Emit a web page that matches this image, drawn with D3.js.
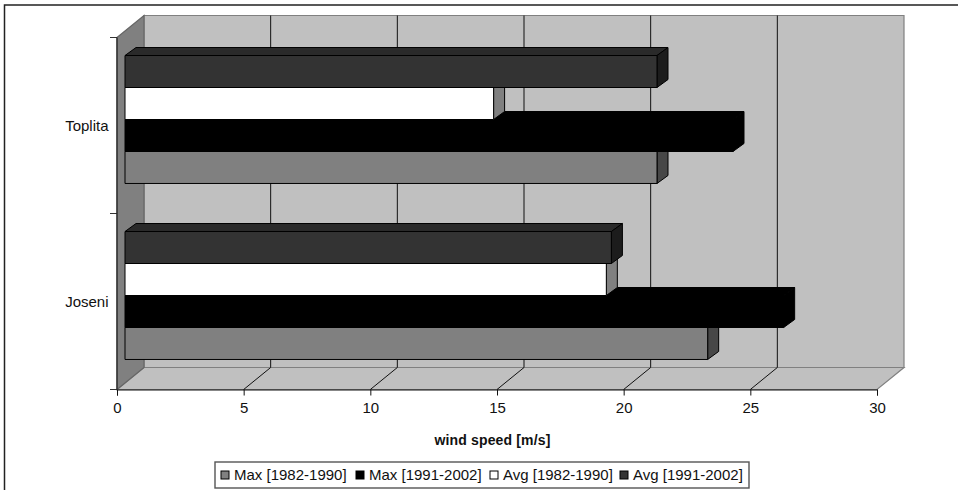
<!DOCTYPE html>
<html><head><meta charset="utf-8">
<script src="https://cdn.jsdelivr.net/npm/d3@7"></script>
<style>
html,body{margin:0;padding:0;background:#fff}
svg{display:block}
text{font-family:"Liberation Sans",Arial,sans-serif;fill:#111}
</style></head><body><svg id="c" width="958" height="490"></svg>
<script>
const categories = ["Joseni","Toplita"];
const seriesNames = ["Max [1982-1990]","Max [1991-2002]","Avg [1982-1990]","Avg [1991-2002]"];
const maxEarly = [23.0,21.0];
const maxLate  = [26.0,24.0];
const avgEarly = [19.0,14.55];
const avgLate  = [19.2,21.0];
const seriesValues = [maxEarly,maxLate,avgEarly,avgLate];
const xTicks = [0,5,10,15,20,25,30];
const axisTitle = "wind speed [m/s]";
const faces = [
  {front:"#808080",top:"#6a6a6a",side:"#474747"},
  {front:"#000000",top:"#000000",side:"#000000"},
  {front:"#ffffff",top:"#c8c8c8",side:"#808080"},
  {front:"#333333",top:"#2a2a2a",side:"#1c1c1c"}
];

const svg = d3.select("#c");
// frame of the picture (left and top only are visible)
svg.append("path").attr("d","M4.5,490V5H958").attr("fill","none").attr("stroke","#222").attr("stroke-width",1.5);

const x = d3.scaleLinear().domain([0,30]).range([117,877]);
const y = d3.scaleBand().domain(categories).range([389.5,37.5]).paddingInner(0.273).paddingOuter(0.1365);
const s = d3.scaleBand().domain(d3.range(seriesNames.length).reverse()).range([0,y.bandwidth()]);
const wall = {dx:27,dy:-22}, barInset = {dx:8,dy:-6}, barDepth = {dx:11,dy:-8};
const plotTop = y.range()[1], plotBot = y.range()[0], L = x(0), R = x(30);
const poly = p=>p.map(q=>q.join(",")).join(" ");

// walls and floor
svg.append("polygon").attr("points",poly([[L+wall.dx,plotTop+wall.dy],[R+wall.dx,plotTop+wall.dy],[R+wall.dx,plotBot+wall.dy],[L+wall.dx,plotBot+wall.dy]]))
  .attr("fill","#c0c0c0").attr("stroke","#808080").attr("stroke-width",1.2);
svg.append("polygon").attr("points",poly([[L,plotBot],[R,plotBot],[R+wall.dx,plotBot+wall.dy],[L+wall.dx,plotBot+wall.dy]]))
  .attr("fill","#c0c0c0").attr("stroke","#808080").attr("stroke-width",1.2);
svg.append("polygon").attr("points",poly([[L,plotTop],[L+wall.dx,plotTop+wall.dy],[L+wall.dx,plotBot+wall.dy],[L,plotBot]]))
  .attr("fill","#808080").attr("stroke","#666").attr("stroke-width",1.2);

// gridlines
svg.append("g").selectAll("path").data(xTicks.slice(1,-1)).join("path")
  .attr("d",v=>`M${x(v)},${plotBot}L${x(v)+wall.dx},${plotBot+wall.dy}V${plotTop+wall.dy}`)
  .attr("fill","none").attr("stroke","#111").attr("stroke-width",1);

// bars
categories.forEach((cat,ci)=>{
  seriesValues.forEach((vals,si)=>{
    const f = faces[si];
    const x0 = x(0)+barInset.dx, x1 = x(vals[ci])+barInset.dx;
    const y0 = y(cat)+s(si)+barInset.dy, y1 = y0+s.bandwidth();
    const g = svg.append("g").attr("stroke","#000").attr("stroke-width",1).attr("stroke-linejoin","round");
    g.append("polygon").attr("points",poly([[x0,y0],[x0+barDepth.dx,y0+barDepth.dy],[x1+barDepth.dx,y0+barDepth.dy],[x1,y0]])).attr("fill",f.top);
    g.append("polygon").attr("points",poly([[x1,y0],[x1+barDepth.dx,y0+barDepth.dy],[x1+barDepth.dx,y1+barDepth.dy],[x1,y1]])).attr("fill",f.side);
    g.append("rect").attr("x",x0).attr("y",y0).attr("width",x1-x0).attr("height",y1-y0).attr("fill",f.front);
  });
});

// axes
const xAxis = d3.axisBottom(x).tickValues(xTicks).tickSize(6).tickPadding(7);
const gx = svg.append("g").attr("transform",`translate(0,${plotBot})`).call(xAxis);
gx.selectAll("text").attr("font-size",15).style("font-family",'"Liberation Sans"').attr("fill","#111");
gx.selectAll("line,path").attr("stroke","#111");

const yTicks = [plotBot,(plotBot+plotTop)/2,plotTop];
svg.append("g").selectAll("line").data(yTicks).join("line")
  .attr("x1",L-7).attr("x2",L).attr("y1",d=>d).attr("y2",d=>d).attr("stroke","#333");
svg.append("line").attr("x1",L).attr("x2",L).attr("y1",plotTop).attr("y2",plotBot).attr("stroke","#222").attr("stroke-width",1.2);

svg.append("g").selectAll("text").data(categories).join("text")
  .attr("x",108.5).attr("y",c=>y(c)+y.bandwidth()/2).attr("dy","0.35em")
  .attr("text-anchor","end").attr("font-size",15).text(c=>c);

svg.append("text").attr("x",492.5).attr("y",445).attr("text-anchor","middle")
  .attr("font-size",14).attr("font-weight","bold").attr("letter-spacing",0.15).text(axisTitle);

// legend
svg.append("rect").attr("x",215).attr("y",462).attr("width",534).attr("height",26)
  .attr("fill","#fff").attr("stroke","#555").attr("stroke-width",1.4);
const legendX = [221,356,490,620];
const lg = svg.append("g").selectAll("g").data(seriesNames).join("g")
  .attr("transform",(d,i)=>`translate(${legendX[i]},471)`);
lg.append("rect").attr("width",8).attr("height",8).attr("fill",(d,i)=>faces[i].front).attr("stroke","#000");
lg.append("text").attr("x",13).attr("y",4).attr("dy","0.36em").attr("font-size",15).text(d=>d);
</script></body></html>
